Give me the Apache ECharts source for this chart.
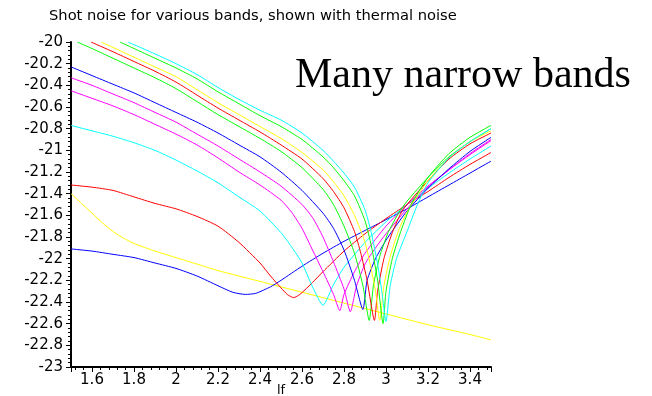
<!DOCTYPE html>
<html>
<head>
    <meta charset="utf-8" />
    <title>Shot noise</title>
    <script type="text/javascript" src="https://cdn.jsdelivr.net/npm/echarts@6/dist/echarts.min.js"></script>
    <style>
        html, body { margin: 0; padding: 0; background: #fff; }
        #main { width: 652px; height: 396px; }
    </style>
</head>
<body>
    <div id="main"></div>
    <script type="text/javascript">
        // thermal noise (yellow, no dip)
        var thermal = [[1.5, -21.40], [1.55, -21.49], [1.6, -21.58], [1.65, -21.67], [1.7, -21.75], [1.75, -21.81], [1.8, -21.86], [1.9, -21.93], [2.0, -21.99], [2.1, -22.05], [2.2, -22.11], [2.4, -22.21], [2.6, -22.31], [2.8, -22.41], [3.0, -22.51], [3.2, -22.61], [3.4, -22.70], [3.5, -22.75]];

        // shot noise curves, widest band first
        var blueWide = [[1.5, -21.91], [1.6, -21.93], [1.7, -21.96], [1.8, -21.99], [1.9, -22.04], [2.0, -22.09], [2.1, -22.16], [2.2, -22.25], [2.27, -22.31], [2.33, -22.33], [2.38, -22.32], [2.45, -22.26], [2.5, -22.2], [2.6, -22.07], [2.7, -21.95], [2.8, -21.84], [2.9, -21.74], [3.0, -21.64], [3.1, -21.54], [3.2, -21.43], [3.3, -21.32], [3.4, -21.21], [3.5, -21.10]];
        var redWide = [[1.5, -21.32], [1.6, -21.34], [1.7, -21.37], [1.8, -21.43], [1.9, -21.49], [2.0, -21.54], [2.1, -21.61], [2.2, -21.70], [2.3, -21.85], [2.4, -22.04], [2.45, -22.16], [2.5, -22.27], [2.53, -22.33], [2.56, -22.36], [2.59, -22.33], [2.65, -22.22], [2.7, -22.12], [2.8, -21.93], [2.9, -21.77], [3.0, -21.63], [3.1, -21.5], [3.2, -21.38], [3.3, -21.25], [3.4, -21.13], [3.5, -21.02]];
        var cyanWide = [[1.5, -20.77], [1.6, -20.82], [1.7, -20.87], [1.8, -20.93], [1.9, -21.0], [2.0, -21.09], [2.1, -21.19], [2.2, -21.30], [2.3, -21.43], [2.4, -21.56], [2.5, -21.76], [2.55, -21.89], [2.6, -22.04], [2.65, -22.26], [2.7, -22.43], [2.75, -22.24], [2.8, -22.08], [2.9, -21.85], [3.0, -21.66], [3.1, -21.5], [3.2, -21.35], [3.3, -21.21], [3.4, -21.08], [3.5, -20.96]];
        var magentaLow = [[1.5, -20.45], [1.6, -20.52], [1.7, -20.59], [1.8, -20.67], [1.9, -20.76], [2.0, -20.85], [2.1, -20.95], [2.2, -21.07], [2.3, -21.2], [2.4, -21.32], [2.5, -21.46], [2.55, -21.57], [2.6, -21.72], [2.65, -21.92], [2.7, -22.12], [2.75, -22.33], [2.78, -22.48], [2.8, -22.33], [2.85, -22.12], [2.9, -21.95], [3.0, -21.7], [3.1, -21.5], [3.2, -21.33], [3.3, -21.18], [3.4, -21.04], [3.5, -20.91]];
        var magentaHigh = [[1.5, -20.33], [1.6, -20.40], [1.7, -20.48], [1.8, -20.56], [1.9, -20.65], [2.0, -20.74], [2.1, -20.85], [2.2, -20.96], [2.3, -21.08], [2.4, -21.2], [2.5, -21.33], [2.6, -21.5], [2.65, -21.62], [2.7, -21.8], [2.75, -22.03], [2.8, -22.28], [2.83, -22.49], [2.86, -22.25], [2.9, -22.05], [2.95, -21.9], [3.0, -21.77], [3.1, -21.54], [3.2, -21.34], [3.3, -21.18], [3.4, -21.03], [3.5, -20.9]];
        var blueNarrow = [[1.5, -20.23], [1.6, -20.31], [1.7, -20.39], [1.8, -20.47], [1.9, -20.56], [2.0, -20.65], [2.1, -20.74], [2.2, -20.84], [2.3, -20.95], [2.4, -21.06], [2.5, -21.2], [2.6, -21.37], [2.7, -21.58], [2.75, -21.72], [2.8, -21.92], [2.85, -22.2], [2.89, -22.47], [2.91, -22.2], [2.95, -22.0], [3.0, -21.83], [3.05, -21.69], [3.1, -21.56], [3.2, -21.35], [3.3, -21.17], [3.4, -21.01], [3.5, -20.88]];
        var greenLow = [[1.53, -20.0], [1.6, -20.06], [1.7, -20.15], [1.8, -20.24], [1.9, -20.33], [2.0, -20.43], [2.1, -20.55], [2.2, -20.67], [2.3, -20.78], [2.4, -20.89], [2.5, -21.01], [2.6, -21.16], [2.7, -21.36], [2.75, -21.5], [2.8, -21.7], [2.85, -21.95], [2.89, -22.25], [2.92, -22.57], [2.94, -22.25], [2.97, -21.98], [3.01, -21.76], [3.06, -21.58], [3.1, -21.47], [3.2, -21.25], [3.3, -21.06], [3.4, -20.92], [3.5, -20.80]];
        var redNarrow = [[1.595, -20.0], [1.7, -20.09], [1.8, -20.18], [1.9, -20.27], [2.0, -20.37], [2.1, -20.49], [2.2, -20.61], [2.3, -20.72], [2.4, -20.83], [2.5, -20.95], [2.6, -21.08], [2.7, -21.26], [2.75, -21.38], [2.8, -21.53], [2.85, -21.75], [2.88, -21.95], [2.91, -22.2], [2.945, -22.57], [2.96, -22.3], [2.99, -22.0], [3.03, -21.76], [3.08, -21.55], [3.2, -21.28], [3.3, -21.08], [3.4, -20.94], [3.5, -20.84]];
        var yellowNarrow = [[1.643, -20.0], [1.7, -20.05], [1.8, -20.14], [1.9, -20.23], [2.0, -20.32], [2.1, -20.44], [2.2, -20.56], [2.3, -20.67], [2.4, -20.78], [2.5, -20.89], [2.6, -21.02], [2.7, -21.18], [2.75, -21.29], [2.8, -21.42], [2.85, -21.6], [2.9, -21.85], [2.93, -22.1], [2.95, -22.3], [2.97, -22.57], [2.99, -22.25], [3.02, -21.98], [3.06, -21.74], [3.1, -21.57], [3.2, -21.28], [3.3, -21.07], [3.4, -20.92], [3.5, -20.82]];
        var greenHigh = [[1.733, -20.0], [1.8, -20.06], [1.9, -20.15], [2.0, -20.24], [2.1, -20.34], [2.2, -20.46], [2.3, -20.57], [2.4, -20.68], [2.5, -20.78], [2.6, -20.9], [2.7, -21.06], [2.75, -21.16], [2.8, -21.28], [2.85, -21.42], [2.9, -21.65], [2.93, -21.88], [2.96, -22.2], [2.986, -22.6], [3.0, -22.3], [3.03, -22.0], [3.07, -21.75], [3.12, -21.5], [3.2, -21.25], [3.3, -21.03], [3.4, -20.88], [3.5, -20.77]];
        var cyanNarrow = [[1.771, -20.0], [1.9, -20.11], [2.0, -20.2], [2.1, -20.3], [2.2, -20.42], [2.3, -20.53], [2.4, -20.63], [2.5, -20.72], [2.6, -20.84], [2.7, -21.0], [2.75, -21.1], [2.8, -21.21], [2.85, -21.34], [2.9, -21.55], [2.93, -21.76], [2.96, -22.05], [2.98, -22.3], [3.0, -22.58], [3.02, -22.25], [3.05, -22.0], [3.1, -21.75], [3.15, -21.5], [3.2, -21.3], [3.3, -21.07], [3.4, -20.92], [3.5, -20.8]];

        var curves = [
            [thermal, '#ffff00'],
            [blueWide, '#0000ff'],
            [redWide, '#ff0000'],
            [cyanWide, '#00ffff'],
            [magentaLow, '#ff00ff'],
            [magentaHigh, '#ff00ff'],
            [blueNarrow, '#0000ff'],
            [greenLow, '#00ff00'],
            [redNarrow, '#ff0000'],
            [yellowNarrow, '#ffff00'],
            [greenHigh, '#00ff00'],
            [cyanNarrow, '#00ffff']
        ];

        var series = [];
        for (var i = 0; i < curves.length; i++) {
            series.push({
                type: 'line',
                data: curves[i][0],
                showSymbol: false,
                symbol: 'none',
                smooth: 0.2,
                lineStyle: { color: curves[i][1], width: 1 }
            });
        }

        var labelFont = { color: '#000', fontFamily: 'DejaVu Sans', fontSize: 15 };

        var myChart = echarts.init(document.getElementById('main'), null, { renderer: 'canvas' });
        var option = {
            animation: false,
            backgroundColor: '#fff',
            title: {
                text: 'Shot noise for various bands, shown with thermal noise',
                left: 49,
                top: 9,
                padding: 0,
                textStyle: { color: '#000', fontFamily: 'DejaVu Sans', fontSize: 14.7, fontWeight: 'normal' }
            },
            graphic: [{
                type: 'text',
                left: 295,
                top: 55,
                style: {
                    text: 'Many narrow bands',
                    fill: '#000',
                    font: '42px "Liberation Serif"'
                }
            }],
            grid: {
                left: 71,
                right: 161,
                top: 42,
                bottom: 29,
                containLabel: false,
                outerBoundsMode: 'none'
            },
            xAxis: {
                type: 'value',
                min: 1.5,
                max: 3.5,
                splitNumber: 10,
                name: 'lf',
                nameLocation: 'middle',
                nameGap: 17,
                nameMoveOverlap: false,
                nameTextStyle: { color: '#000', fontFamily: 'DejaVu Sans', fontSize: 13, verticalAlign: 'top' },
                axisLine: { onZero: false, lineStyle: { color: '#000', width: 2 } },
                axisTick: { show: true, length: 5, lineStyle: { color: '#000' } },
                minorTick: { show: true, splitNumber: 5, length: 3, lineStyle: { color: '#000' } },
                axisLabel: Object.assign({ margin: 6, showMinLabel: false, showMaxLabel: false }, labelFont),
                splitLine: { show: false }
            },
            yAxis: {
                type: 'value',
                min: -23,
                max: -20,
                interval: 0.2,
                axisLine: { onZero: false, lineStyle: { color: '#000', width: 2 } },
                axisTick: { show: true, length: 5, lineStyle: { color: '#000' } },
                minorTick: { show: true, splitNumber: 5, length: 3, lineStyle: { color: '#000' } },
                axisLabel: Object.assign({ margin: 8 }, labelFont),
                splitLine: { show: false }
            },
            series: series
        };
        option && myChart.setOption(option);
    </script>
</body>
</html>
